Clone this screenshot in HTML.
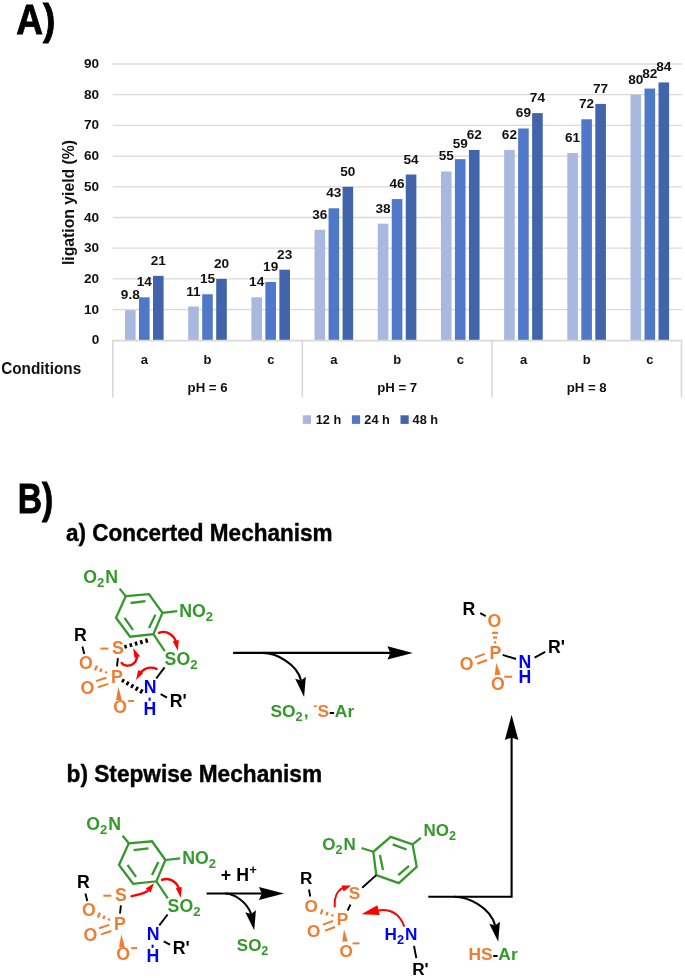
<!DOCTYPE html>
<html><head><meta charset="utf-8"><title>figure</title>
<style>
html,body{margin:0;padding:0;background:#fff;}
body{width:685px;height:978px;overflow:hidden;}
svg{will-change:transform;display:block;font-family:"Liberation Sans",sans-serif;font-weight:bold;}
</style></head><body>
<svg width="685" height="978" viewBox="0 0 685 978">
<rect width="685" height="978" fill="#fff"/>
<line x1="112.8" y1="309.6" x2="681.5" y2="309.6" stroke="#D9D9D9" stroke-width="1.3"/>
<line x1="112.8" y1="278.9" x2="681.5" y2="278.9" stroke="#D9D9D9" stroke-width="1.3"/>
<line x1="112.8" y1="248.2" x2="681.5" y2="248.2" stroke="#D9D9D9" stroke-width="1.3"/>
<line x1="112.8" y1="217.5" x2="681.5" y2="217.5" stroke="#D9D9D9" stroke-width="1.3"/>
<line x1="112.8" y1="186.8" x2="681.5" y2="186.8" stroke="#D9D9D9" stroke-width="1.3"/>
<line x1="112.8" y1="156.1" x2="681.5" y2="156.1" stroke="#D9D9D9" stroke-width="1.3"/>
<line x1="112.8" y1="125.4" x2="681.5" y2="125.4" stroke="#D9D9D9" stroke-width="1.3"/>
<line x1="112.8" y1="94.7" x2="681.5" y2="94.7" stroke="#D9D9D9" stroke-width="1.3"/>
<line x1="112.8" y1="64" x2="681.5" y2="64" stroke="#D9D9D9" stroke-width="1.3"/>
<line x1="112.8" y1="340.3" x2="112.8" y2="397.5" stroke="#D9D9D9" stroke-width="1.6"/>
<line x1="302.37" y1="340.3" x2="302.37" y2="397.5" stroke="#D9D9D9" stroke-width="1.6"/>
<line x1="491.93" y1="340.3" x2="491.93" y2="397.5" stroke="#D9D9D9" stroke-width="1.6"/>
<line x1="681.5" y1="340.3" x2="681.5" y2="397.5" stroke="#D9D9D9" stroke-width="1.6"/>
<text x="99.2" y="344.3" font-size="13.6" fill="#111" text-anchor="end">0</text>
<text x="99.2" y="313.6" font-size="13.6" fill="#111" text-anchor="end">10</text>
<text x="99.2" y="282.9" font-size="13.6" fill="#111" text-anchor="end">20</text>
<text x="99.2" y="252.2" font-size="13.6" fill="#111" text-anchor="end">30</text>
<text x="99.2" y="221.5" font-size="13.6" fill="#111" text-anchor="end">40</text>
<text x="99.2" y="190.8" font-size="13.6" fill="#111" text-anchor="end">50</text>
<text x="99.2" y="160.1" font-size="13.6" fill="#111" text-anchor="end">60</text>
<text x="99.2" y="129.4" font-size="13.6" fill="#111" text-anchor="end">70</text>
<text x="99.2" y="98.7" font-size="13.6" fill="#111" text-anchor="end">80</text>
<text x="99.2" y="68" font-size="13.6" fill="#111" text-anchor="end">90</text>
<rect x="125" y="310.21" width="10.6" height="30.09" fill="#A9B8DE"/>
<text x="130.3" y="299.21" font-size="13.6" fill="#111" text-anchor="middle">9.8</text>
<rect x="139" y="297.32" width="10.6" height="42.98" fill="#5078C8"/>
<text x="144.3" y="286.32" font-size="13.6" fill="#111" text-anchor="middle">14</text>
<rect x="153" y="275.83" width="10.6" height="64.47" fill="#4264AA"/>
<text x="158.3" y="264.83" font-size="13.6" fill="#111" text-anchor="middle">21</text>
<rect x="188.19" y="306.53" width="10.6" height="33.77" fill="#A9B8DE"/>
<text x="193.49" y="295.53" font-size="13.6" fill="#111" text-anchor="middle">11</text>
<rect x="202.19" y="294.25" width="10.6" height="46.05" fill="#5078C8"/>
<text x="207.49" y="283.25" font-size="13.6" fill="#111" text-anchor="middle">15</text>
<rect x="216.19" y="278.9" width="10.6" height="61.4" fill="#4264AA"/>
<text x="221.49" y="267.9" font-size="13.6" fill="#111" text-anchor="middle">20</text>
<rect x="251.38" y="297.32" width="10.6" height="42.98" fill="#A9B8DE"/>
<text x="256.68" y="286.32" font-size="13.6" fill="#111" text-anchor="middle">14</text>
<rect x="265.38" y="281.97" width="10.6" height="58.33" fill="#5078C8"/>
<text x="270.68" y="270.97" font-size="13.6" fill="#111" text-anchor="middle">19</text>
<rect x="279.38" y="269.69" width="10.6" height="70.61" fill="#4264AA"/>
<text x="284.68" y="258.69" font-size="13.6" fill="#111" text-anchor="middle">23</text>
<rect x="314.57" y="229.78" width="10.6" height="110.52" fill="#A9B8DE"/>
<text x="319.87" y="218.78" font-size="13.6" fill="#111" text-anchor="middle">36</text>
<rect x="328.57" y="208.29" width="10.6" height="132.01" fill="#5078C8"/>
<text x="333.87" y="197.29" font-size="13.6" fill="#111" text-anchor="middle">43</text>
<rect x="342.57" y="186.8" width="10.6" height="153.5" fill="#4264AA"/>
<text x="347.87" y="175.8" font-size="13.6" fill="#111" text-anchor="middle">50</text>
<rect x="377.76" y="223.64" width="10.6" height="116.66" fill="#A9B8DE"/>
<text x="383.06" y="212.64" font-size="13.6" fill="#111" text-anchor="middle">38</text>
<rect x="391.76" y="199.08" width="10.6" height="141.22" fill="#5078C8"/>
<text x="397.06" y="188.08" font-size="13.6" fill="#111" text-anchor="middle">46</text>
<rect x="405.76" y="174.52" width="10.6" height="165.78" fill="#4264AA"/>
<text x="411.06" y="163.52" font-size="13.6" fill="#111" text-anchor="middle">54</text>
<rect x="440.94" y="171.45" width="10.6" height="168.85" fill="#A9B8DE"/>
<text x="446.24" y="160.45" font-size="13.6" fill="#111" text-anchor="middle">55</text>
<rect x="454.94" y="159.17" width="10.6" height="181.13" fill="#5078C8"/>
<text x="460.24" y="148.17" font-size="13.6" fill="#111" text-anchor="middle">59</text>
<rect x="468.94" y="149.96" width="10.6" height="190.34" fill="#4264AA"/>
<text x="474.24" y="138.96" font-size="13.6" fill="#111" text-anchor="middle">62</text>
<rect x="504.13" y="149.96" width="10.6" height="190.34" fill="#A9B8DE"/>
<text x="509.43" y="138.96" font-size="13.6" fill="#111" text-anchor="middle">62</text>
<rect x="518.13" y="128.47" width="10.6" height="211.83" fill="#5078C8"/>
<text x="523.43" y="117.47" font-size="13.6" fill="#111" text-anchor="middle">69</text>
<rect x="532.13" y="113.12" width="10.6" height="227.18" fill="#4264AA"/>
<text x="537.43" y="102.12" font-size="13.6" fill="#111" text-anchor="middle">74</text>
<rect x="567.32" y="153.03" width="10.6" height="187.27" fill="#A9B8DE"/>
<text x="572.62" y="142.03" font-size="13.6" fill="#111" text-anchor="middle">61</text>
<rect x="581.32" y="119.26" width="10.6" height="221.04" fill="#5078C8"/>
<text x="586.62" y="108.26" font-size="13.6" fill="#111" text-anchor="middle">72</text>
<rect x="595.32" y="103.91" width="10.6" height="236.39" fill="#4264AA"/>
<text x="600.62" y="92.91" font-size="13.6" fill="#111" text-anchor="middle">77</text>
<rect x="630.51" y="94.7" width="10.6" height="245.6" fill="#A9B8DE"/>
<text x="635.81" y="83.7" font-size="13.6" fill="#111" text-anchor="middle">80</text>
<rect x="644.51" y="88.56" width="10.6" height="251.74" fill="#5078C8"/>
<text x="649.81" y="77.56" font-size="13.6" fill="#111" text-anchor="middle">82</text>
<rect x="658.51" y="82.42" width="10.6" height="257.88" fill="#4264AA"/>
<text x="663.81" y="71.42" font-size="13.6" fill="#111" text-anchor="middle">84</text>
<line x1="112" y1="340.6" x2="682.3" y2="340.6" stroke="#D9D9D9" stroke-width="1.9"/>
<text x="144.39" y="364" font-size="13" fill="#111" text-anchor="middle">a</text>
<text x="207.58" y="364" font-size="13" fill="#111" text-anchor="middle">b</text>
<text x="270.77" y="364" font-size="13" fill="#111" text-anchor="middle">c</text>
<text x="333.96" y="364" font-size="13" fill="#111" text-anchor="middle">a</text>
<text x="397.15" y="364" font-size="13" fill="#111" text-anchor="middle">b</text>
<text x="460.34" y="364" font-size="13" fill="#111" text-anchor="middle">c</text>
<text x="523.53" y="364" font-size="13" fill="#111" text-anchor="middle">a</text>
<text x="586.72" y="364" font-size="13" fill="#111" text-anchor="middle">b</text>
<text x="649.91" y="364" font-size="13" fill="#111" text-anchor="middle">c</text>
<text x="207.58" y="392.2" font-size="13" fill="#111" text-anchor="middle" textLength="40" lengthAdjust="spacingAndGlyphs">pH = 6</text>
<text x="397.15" y="392.2" font-size="13" fill="#111" text-anchor="middle" textLength="40" lengthAdjust="spacingAndGlyphs">pH = 7</text>
<text x="586.72" y="392.2" font-size="13" fill="#111" text-anchor="middle" textLength="40" lengthAdjust="spacingAndGlyphs">pH = 8</text>
<text x="1.2" y="374.2" font-size="16.8" fill="#111" textLength="80" lengthAdjust="spacingAndGlyphs">Conditions</text>
<g transform="translate(74.2,202.5) rotate(-90)">
<text x="0" y="0" font-size="16" fill="#111" text-anchor="middle" textLength="125" lengthAdjust="spacingAndGlyphs">ligation yield (%)</text>
</g>
<rect x="302.8" y="415.3" width="8.2" height="8.6" fill="#A9B8DE"/>
<text x="315.7" y="424" font-size="13.6" fill="#111" textLength="25.5" lengthAdjust="spacingAndGlyphs">12 h</text>
<rect x="351.9" y="415.3" width="8.2" height="8.6" fill="#5078C8"/>
<text x="364.3" y="424" font-size="13.6" fill="#111" textLength="25.5" lengthAdjust="spacingAndGlyphs">24 h</text>
<rect x="400.5" y="415.3" width="8.2" height="8.6" fill="#4264AA"/>
<text x="412.6" y="424" font-size="13.6" fill="#111" textLength="25.5" lengthAdjust="spacingAndGlyphs">48 h</text>
<text x="16.3" y="34.2" font-size="42" fill="#000" textLength="39" lengthAdjust="spacingAndGlyphs" stroke="#000" stroke-width="0.9">A)</text>
<text x="17.8" y="512.8" font-size="42" fill="#000" textLength="35.5" lengthAdjust="spacingAndGlyphs" stroke="#000" stroke-width="0.9">B)</text>
<text x="66" y="540.6" font-size="23" fill="#000" textLength="266.5" lengthAdjust="spacingAndGlyphs" stroke="#000" stroke-width="0.4">a) Concerted Mechanism</text>
<text x="66.6" y="782" font-size="23" fill="#000" textLength="255.5" lengthAdjust="spacingAndGlyphs" stroke="#000" stroke-width="0.4">b) Stepwise Mechanism</text>
<path d="M125.8,596.2 L149,594.2 L162.4,612.9 L153.4,634.2 L130.1,636.7 L116,617.8 Z" fill="none" stroke="#34982A" stroke-width="2.3" stroke-linejoin="miter"/>
<line x1="130.6" y1="603" x2="145.5" y2="601.2" stroke="#34982A" stroke-width="2.3" stroke-linecap="butt"/>
<line x1="155.4" y1="614.8" x2="149" y2="627.9" stroke="#34982A" stroke-width="2.3" stroke-linecap="butt"/>
<line x1="124.5" y1="617.8" x2="133" y2="629.8" stroke="#34982A" stroke-width="2.3" stroke-linecap="butt"/>
<line x1="125.8" y1="596.2" x2="119.6" y2="588.6" stroke="#34982A" stroke-width="2.2" stroke-linecap="butt"/>
<line x1="162.4" y1="612.9" x2="177.1" y2="611.2" stroke="#34982A" stroke-width="2.2" stroke-linecap="butt"/>
<line x1="153.4" y1="634.2" x2="164.8" y2="651.2" stroke="#34982A" stroke-width="2.2" stroke-linecap="butt"/>
<text x="83.3" y="583" font-size="17.7" fill="#34982A">O</text>
<text x="97.07" y="587.16" font-size="13.1" fill="#34982A">2</text>
<text x="105.35" y="583" font-size="17.7" fill="#34982A">N</text>
<text x="179.2" y="617" font-size="17.7" fill="#34982A">N</text>
<text x="191.98" y="617" font-size="17.7" fill="#34982A">O</text>
<text x="205.75" y="621.16" font-size="13.1" fill="#34982A">2</text>
<text x="164.6" y="664.9" font-size="17.7" fill="#34982A">S</text>
<text x="176.41" y="664.9" font-size="17.7" fill="#34982A">O</text>
<text x="190.17" y="669.06" font-size="13.1" fill="#34982A">2</text>
<text x="80.4" y="640.6" font-size="17.7" fill="#000000" text-anchor="middle">R</text>
<line x1="82.4" y1="646.4" x2="84.3" y2="654" stroke="#000000" stroke-width="1.9" stroke-linecap="butt"/>
<text x="86" y="668.9" font-size="17.7" fill="#ED7D31" text-anchor="middle">O</text>
<line x1="100.4" y1="648.6" x2="108.4" y2="648.6" stroke="#ED7D31" stroke-width="2"/>
<text x="118" y="653.7" font-size="17.7" fill="#ED7D31" text-anchor="middle">S</text>
<line x1="117.9" y1="658.2" x2="117" y2="666.4" stroke="#000000" stroke-width="1.9" stroke-linecap="butt"/>
<text x="116.8" y="683" font-size="17.7" fill="#ED7D31" text-anchor="middle">P</text>
<line x1="105.6" y1="673.32" x2="106.4" y2="671.48" stroke="#ED7D31" stroke-width="2.3"/>
<line x1="100.23" y1="671.85" x2="101.67" y2="668.55" stroke="#ED7D31" stroke-width="2.3"/>
<line x1="94.86" y1="670.38" x2="96.94" y2="665.62" stroke="#ED7D31" stroke-width="2.3"/>
<text x="87.4" y="693.9" font-size="17.7" fill="#ED7D31" text-anchor="middle">O</text>
<line x1="98" y1="687.24" x2="108.3" y2="683.84" stroke="#ED7D31" stroke-width="2" stroke-linecap="butt"/>
<line x1="96" y1="681.16" x2="106.3" y2="677.76" stroke="#ED7D31" stroke-width="2" stroke-linecap="butt"/>
<polygon points="118.4,686.8 116,700.11 121.8,699.89" fill="#ED7D31"/>
<text x="120.2" y="712.6" font-size="17.7" fill="#ED7D31" text-anchor="middle">O</text>
<line x1="128.2" y1="701" x2="134" y2="701" stroke="#ED7D31" stroke-width="2"/>
<text x="150.1" y="692.6" font-size="17.7" fill="#0000FF" text-anchor="middle">N</text>
<line x1="156.3" y1="678.3" x2="164.6" y2="667.4" stroke="#000000" stroke-width="1.9" stroke-linecap="butt"/>
<line x1="160.7" y1="694.2" x2="167" y2="697.6" stroke="#000000" stroke-width="1.9" stroke-linecap="butt"/>
<text x="169.8" y="706.8" font-size="17.7" fill="#000000">R'</text>
<line x1="149.6" y1="697.6" x2="149.6" y2="700.8" stroke="#0000FF" stroke-width="2" stroke-linecap="butt"/>
<text x="150" y="715.2" font-size="17.7" fill="#0000FF" text-anchor="middle">H</text>
<path d="M158.9,632.8 C165,630.2 172.5,633.5 175.6,640.5" fill="none" stroke="#FF0000" stroke-width="2.4" stroke-linecap="round"/>
<polygon points="177.8,650.7 172.76,641.2 178.84,640" fill="#FF0000"/>
<line x1="125.11" y1="644.87" x2="126.09" y2="648.33" stroke="#000000" stroke-width="2.5"/>
<line x1="130.33" y1="643.27" x2="131.37" y2="646.93" stroke="#000000" stroke-width="2.5"/>
<line x1="135.55" y1="641.68" x2="136.65" y2="645.52" stroke="#000000" stroke-width="2.5"/>
<line x1="140.77" y1="640.08" x2="141.93" y2="644.12" stroke="#000000" stroke-width="2.5"/>
<line x1="146" y1="638.48" x2="147.2" y2="642.72" stroke="#000000" stroke-width="2.5"/>
<line x1="123.9" y1="679.14" x2="122.1" y2="682.26" stroke="#000000" stroke-width="2.5"/>
<line x1="128.57" y1="681.71" x2="126.63" y2="685.04" stroke="#000000" stroke-width="2.5"/>
<line x1="133.23" y1="684.28" x2="131.17" y2="687.82" stroke="#000000" stroke-width="2.5"/>
<line x1="137.89" y1="686.84" x2="135.71" y2="690.61" stroke="#000000" stroke-width="2.5"/>
<line x1="142.56" y1="689.41" x2="140.24" y2="693.39" stroke="#000000" stroke-width="2.5"/>
<path d="M121.6,662.9 C124,666.5 131,667 135.2,662 L137.2,657.2" fill="none" stroke="#FF0000" stroke-width="2.4" stroke-linecap="round"/>
<polygon points="133.1,648 140.3,656.6 137.4,656.8 134.6,658.2" fill="#FF0000"/>
<path d="M156.6,668.8 C151,666.5 145,668 141.2,671.8" fill="none" stroke="#FF0000" stroke-width="2.4" stroke-linecap="round"/>
<polygon points="136,680 138.2,670.11 143.4,673.09" fill="#FF0000"/>
<path d="M128.8,843.3 L152,841.3 L165.4,860 L156.4,881.3 L133.1,883.8 L119,864.9 Z" fill="none" stroke="#34982A" stroke-width="2.3" stroke-linejoin="miter"/>
<line x1="133.6" y1="850.1" x2="148.5" y2="848.3" stroke="#34982A" stroke-width="2.3" stroke-linecap="butt"/>
<line x1="158.4" y1="861.9" x2="152" y2="875" stroke="#34982A" stroke-width="2.3" stroke-linecap="butt"/>
<line x1="127.5" y1="864.9" x2="136" y2="876.9" stroke="#34982A" stroke-width="2.3" stroke-linecap="butt"/>
<line x1="128.8" y1="843.3" x2="122.6" y2="835.7" stroke="#34982A" stroke-width="2.2" stroke-linecap="butt"/>
<line x1="165.4" y1="860" x2="180.1" y2="858.3" stroke="#34982A" stroke-width="2.2" stroke-linecap="butt"/>
<line x1="156.4" y1="881.3" x2="167.8" y2="898.3" stroke="#34982A" stroke-width="2.2" stroke-linecap="butt"/>
<text x="86.3" y="830.1" font-size="17.7" fill="#34982A">O</text>
<text x="100.07" y="834.26" font-size="13.1" fill="#34982A">2</text>
<text x="108.35" y="830.1" font-size="17.7" fill="#34982A">N</text>
<text x="182.2" y="864.1" font-size="17.7" fill="#34982A">N</text>
<text x="194.98" y="864.1" font-size="17.7" fill="#34982A">O</text>
<text x="208.75" y="868.26" font-size="13.1" fill="#34982A">2</text>
<text x="167.6" y="912" font-size="17.7" fill="#34982A">S</text>
<text x="179.41" y="912" font-size="17.7" fill="#34982A">O</text>
<text x="193.17" y="916.16" font-size="13.1" fill="#34982A">2</text>
<text x="83.4" y="887.7" font-size="17.7" fill="#000000" text-anchor="middle">R</text>
<line x1="85.4" y1="893.5" x2="87.3" y2="901.1" stroke="#000000" stroke-width="1.9" stroke-linecap="butt"/>
<text x="89" y="916" font-size="17.7" fill="#ED7D31" text-anchor="middle">O</text>
<line x1="103.4" y1="895.7" x2="111.4" y2="895.7" stroke="#ED7D31" stroke-width="2"/>
<text x="121" y="900.8" font-size="17.7" fill="#ED7D31" text-anchor="middle">S</text>
<line x1="120.9" y1="905.3" x2="120" y2="913.5" stroke="#000000" stroke-width="1.9" stroke-linecap="butt"/>
<text x="119.8" y="930.1" font-size="17.7" fill="#ED7D31" text-anchor="middle">P</text>
<line x1="108.6" y1="920.42" x2="109.4" y2="918.58" stroke="#ED7D31" stroke-width="2.3"/>
<line x1="103.23" y1="918.95" x2="104.67" y2="915.65" stroke="#ED7D31" stroke-width="2.3"/>
<line x1="97.86" y1="917.48" x2="99.94" y2="912.72" stroke="#ED7D31" stroke-width="2.3"/>
<text x="90.4" y="941" font-size="17.7" fill="#ED7D31" text-anchor="middle">O</text>
<line x1="101" y1="934.34" x2="111.3" y2="930.94" stroke="#ED7D31" stroke-width="2" stroke-linecap="butt"/>
<line x1="99" y1="928.26" x2="109.3" y2="924.86" stroke="#ED7D31" stroke-width="2" stroke-linecap="butt"/>
<polygon points="121.4,933.9 119,947.21 124.8,946.99" fill="#ED7D31"/>
<text x="123.2" y="959.7" font-size="17.7" fill="#ED7D31" text-anchor="middle">O</text>
<line x1="131.2" y1="948.1" x2="137" y2="948.1" stroke="#ED7D31" stroke-width="2"/>
<text x="153.1" y="939.7" font-size="17.7" fill="#0000FF" text-anchor="middle">N</text>
<line x1="159.3" y1="925.4" x2="167.6" y2="914.5" stroke="#000000" stroke-width="1.9" stroke-linecap="butt"/>
<line x1="163.7" y1="941.3" x2="170" y2="944.7" stroke="#000000" stroke-width="1.9" stroke-linecap="butt"/>
<text x="172.8" y="953.9" font-size="17.7" fill="#000000">R'</text>
<line x1="152.6" y1="944.7" x2="152.6" y2="947.9" stroke="#0000FF" stroke-width="2" stroke-linecap="butt"/>
<text x="153" y="962.3" font-size="17.7" fill="#0000FF" text-anchor="middle">H</text>
<path d="M161.9,879.9 C168.0,877.3000000000001 175.5,880.6 178.6,887.6" fill="none" stroke="#FF0000" stroke-width="2.4" stroke-linecap="round"/>
<polygon points="180.8,897.8 175.76,888.3 181.84,887.1" fill="#FF0000"/>
<path d="M131.6,896.1 C137,894.8 143,894 147.6,891" fill="none" stroke="#FF0000" stroke-width="2.4" stroke-linecap="round"/>
<polygon points="153.9,883.3 150.71,892.49 145.69,888.51" fill="#FF0000"/>
<line x1="233.1" y1="652.9" x2="390.5" y2="652.9" stroke="#000000" stroke-width="2.1"/>
<polygon points="412.8,652.9 387.5,659.5 390.3,652.9 387.5,646.3" fill="#000000"/>
<path d="M262.7,652.9 C276,652.9 297.5,664 301.03,680.59" fill="none" stroke="#000000" stroke-width="2.1"/>
<polygon points="304.1,697 295.2,678.83 301.03,680.59 305.82,676.84" fill="#000000"/>
<text x="270.4" y="717.3" font-size="17.4" fill="#34982A">SO</text>
<text x="295.54" y="721.39" font-size="12.88" fill="#34982A">2</text>
<text x="303.7" y="717.3" font-size="17.4" fill="#34982A">,</text>
<text x="308.54" y="717.3" font-size="17.4" fill="#34982A"> </text>
<text x="313.37" y="709.99" font-size="12.18" fill="#ED7D31">-</text>
<text x="317.43" y="717.3" font-size="17.4" fill="#ED7D31">S</text>
<text x="329.03" y="717.3" font-size="17.4" fill="#000000">-</text>
<text x="334.83" y="717.3" font-size="17.4" fill="#34982A">Ar</text>
<text x="469" y="615" font-size="17.7" fill="#000000" text-anchor="middle">R</text>
<line x1="480.2" y1="613.2" x2="485.7" y2="616.2" stroke="#000000" stroke-width="1.9" stroke-linecap="butt"/>
<text x="494.4" y="627" font-size="17.7" fill="#ED7D31" text-anchor="middle">O</text>
<line x1="493.8" y1="642.3" x2="496.2" y2="642.3" stroke="#ED7D31" stroke-width="2.2"/>
<line x1="492.9" y1="637.55" x2="497.1" y2="637.55" stroke="#ED7D31" stroke-width="2.2"/>
<line x1="492" y1="632.8" x2="498" y2="632.8" stroke="#ED7D31" stroke-width="2.2"/>
<text x="495.3" y="658.7" font-size="17.7" fill="#ED7D31" text-anchor="middle">P</text>
<line x1="477.18" y1="663.78" x2="487.08" y2="659.98" stroke="#ED7D31" stroke-width="2" stroke-linecap="butt"/>
<line x1="474.82" y1="657.62" x2="484.72" y2="653.82" stroke="#ED7D31" stroke-width="2" stroke-linecap="butt"/>
<text x="466.6" y="670.2" font-size="17.7" fill="#ED7D31" text-anchor="middle">O</text>
<line x1="502.6" y1="654.9" x2="516" y2="659" stroke="#000000" stroke-width="1.9" stroke-linecap="butt"/>
<text x="525" y="667.6" font-size="17.7" fill="#0000FF" text-anchor="middle">N</text>
<text x="525" y="682.8" font-size="17.7" fill="#0000FF" text-anchor="middle">H</text>
<line x1="534.6" y1="657.7" x2="545.2" y2="651.8" stroke="#000000" stroke-width="1.9" stroke-linecap="butt"/>
<text x="548" y="653" font-size="17.7" fill="#000000">R'</text>
<polygon points="496.3,662.8 494.72,675.15 500.68,674.45" fill="#ED7D31"/>
<text x="498" y="690.2" font-size="17.7" fill="#ED7D31" text-anchor="middle">O</text>
<line x1="504.2" y1="676.7" x2="512.2" y2="676.7" stroke="#ED7D31" stroke-width="2"/>
<line x1="206.6" y1="893.5" x2="262" y2="893.5" stroke="#000000" stroke-width="2.1"/>
<polygon points="284,893.5 258.9,900 261.8,893.5 258.9,887" fill="#000000"/>
<path d="M225,893.5 C234,893.5 247,902 251.13,913.89" fill="none" stroke="#000000" stroke-width="2.1"/>
<polygon points="254.2,930.3 245.3,912.13 251.13,913.89 255.92,910.14" fill="#000000"/>
<text x="225.8" y="881" font-size="17.7" fill="#000000" text-anchor="middle">+</text>
<text x="242.6" y="881" font-size="17.7" fill="#000000" text-anchor="middle">H</text>
<text x="253.1" y="874.2" font-size="12.5" fill="#000000" text-anchor="middle">+</text>
<text x="236.8" y="951.4" font-size="17" fill="#34982A">SO</text>
<text x="261.36" y="955.39" font-size="12.58" fill="#34982A">2</text>
<path d="M390.7,836.8 L412.6,844.4 L416.7,866.9 L398.8,883.2 L376.3,875.1 L373.3,851.8 Z" fill="none" stroke="#34982A" stroke-width="2.3" stroke-linejoin="miter"/>
<line x1="392.7" y1="844.4" x2="406.5" y2="849.5" stroke="#34982A" stroke-width="2.3" stroke-linecap="butt"/>
<line x1="379.9" y1="855.1" x2="383" y2="870" stroke="#34982A" stroke-width="2.3" stroke-linecap="butt"/>
<line x1="398.3" y1="875.1" x2="409" y2="865.9" stroke="#34982A" stroke-width="2.3" stroke-linecap="butt"/>
<line x1="373.3" y1="851.8" x2="361.5" y2="848" stroke="#34982A" stroke-width="2.2" stroke-linecap="butt"/>
<line x1="412.6" y1="844.4" x2="420.8" y2="837.8" stroke="#34982A" stroke-width="2.2" stroke-linecap="butt"/>
<line x1="376.3" y1="875.1" x2="362.2" y2="887.8" stroke="#000000" stroke-width="1.9" stroke-linecap="butt"/>
<text x="322.3" y="850.4" font-size="17" fill="#34982A">O</text>
<text x="335.52" y="854.39" font-size="12.58" fill="#34982A">2</text>
<text x="343.52" y="850.4" font-size="17" fill="#34982A">N</text>
<text x="423.4" y="836.4" font-size="17" fill="#34982A">N</text>
<text x="435.68" y="836.4" font-size="17" fill="#34982A">O</text>
<text x="448.9" y="840.39" font-size="12.58" fill="#34982A">2</text>
<text x="306.1" y="883.8" font-size="17.2" fill="#000000" text-anchor="middle">R</text>
<line x1="309" y1="889.5" x2="310.2" y2="896.5" stroke="#000000" stroke-width="1.9" stroke-linecap="butt"/>
<text x="311.2" y="912.3" font-size="17.2" fill="#ED7D31" text-anchor="middle">O</text>
<text x="354.6" y="899.4" font-size="17.2" fill="#ED7D31" text-anchor="middle">S</text>
<line x1="350.5" y1="904.5" x2="347.6" y2="910.5" stroke="#000000" stroke-width="1.9" stroke-linecap="butt"/>
<text x="342.6" y="925.3" font-size="17.2" fill="#ED7D31" text-anchor="middle">P</text>
<line x1="332.05" y1="916.44" x2="332.75" y2="914.36" stroke="#ED7D31" stroke-width="2.2"/>
<line x1="326.41" y1="915.36" x2="327.59" y2="911.84" stroke="#ED7D31" stroke-width="2.2"/>
<line x1="320.78" y1="914.27" x2="322.42" y2="909.33" stroke="#ED7D31" stroke-width="2.2"/>
<text x="313.7" y="936.9" font-size="17.2" fill="#ED7D31" text-anchor="middle">O</text>
<line x1="325.08" y1="930.61" x2="335.08" y2="927.01" stroke="#ED7D31" stroke-width="2" stroke-linecap="butt"/>
<line x1="322.92" y1="924.59" x2="332.92" y2="920.99" stroke="#ED7D31" stroke-width="2" stroke-linecap="butt"/>
<polygon points="344,929.5 342.26,941.73 347.74,941.27" fill="#ED7D31"/>
<text x="346.1" y="956.7" font-size="17.2" fill="#ED7D31" text-anchor="middle">O</text>
<line x1="352.6" y1="943.4" x2="359.6" y2="943.4" stroke="#ED7D31" stroke-width="1.9"/>
<text x="384.6" y="939.7" font-size="17.2" fill="#0000FF">H</text>
<text x="397.02" y="943.74" font-size="12.73" fill="#0000FF">2</text>
<text x="405.1" y="939.7" font-size="17.2" fill="#0000FF">N</text>
<line x1="414" y1="945.8" x2="416.3" y2="958.1" stroke="#000000" stroke-width="1.9" stroke-linecap="butt"/>
<text x="412.2" y="974.6" font-size="17.2" fill="#000000">R'</text>
<path d="M334.7,906.5 C334,898 337,891 342.5,888.2" fill="none" stroke="#FF0000" stroke-width="2" stroke-linecap="round"/>
<polygon points="351.1,885.4 343.62,891.6 341.38,885.6" fill="#FF0000"/>
<path d="M404,925.9 C399,913 389,909 378.5,910.4" fill="none" stroke="#FF0000" stroke-width="2" stroke-linecap="round"/>
<polygon points="361.4,914.3 377.33,905.34 379.67,915.06" fill="#FF0000"/>
<path d="M428.3,896.7 L511.6,896.7 L511.6,736" fill="none" stroke="#000000" stroke-width="2.1" stroke-linejoin="miter"/>
<polygon points="511.6,714.8 518.35,740.1 511.6,737.5 504.85,740.1" fill="#000000"/>
<path d="M454,896.8 C468,896.8 490,907 495.13,925.39" fill="none" stroke="#000000" stroke-width="2.1"/>
<polygon points="498.2,941.8 489.3,923.63 495.13,925.39 499.92,921.64" fill="#000000"/>
<text x="468.4" y="960" font-size="17.4" fill="#ED7D31">HS</text>
<text x="492.57" y="960" font-size="17.4" fill="#000000">-</text>
<text x="498.37" y="960" font-size="17.4" fill="#34982A">Ar</text>
</svg>
</body></html>
